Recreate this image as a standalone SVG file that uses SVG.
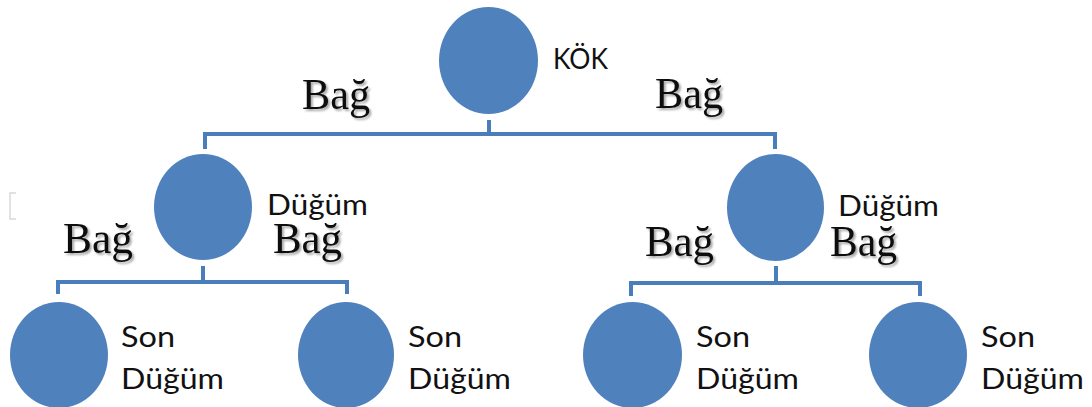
<svg xmlns="http://www.w3.org/2000/svg" width="1092" height="407" viewBox="0 0 1092 407">
<defs>
<style>
.node{fill:#4f81bd;}
.edge{fill:none;stroke:#4a7ebb;stroke-width:4;}
.lbl{font-family:Lato,"Noto Sans","Liberation Sans",sans-serif;font-size:28px;fill:#111;}
.bag{font-family:"Liberation Serif","Times New Roman",serif;font-size:44px;fill:#111;filter:url(#sh);}
</style>
<filter id="sh" x="-20%" y="-20%" width="140%" height="140%">
<feGaussianBlur in="SourceAlpha" stdDeviation="1.2"/>
<feOffset dx="2" dy="2" result="b"/>
<feComponentTransfer><feFuncA type="linear" slope="0.35"/></feComponentTransfer>
<feMerge><feMergeNode/><feMergeNode in="SourceGraphic"/></feMerge>
</filter>
</defs>
<rect width="1092" height="407" fill="#fff"/>
<path d="M16 193 H10 V219 H16" fill="none" stroke="#d9d9d9" stroke-width="1.5"/>
<g id="connectors">
<path class="edge" d="M489 120 V134 M205 149 V134 H775 V149"/>
<path class="edge" d="M203 266 V282 M58 294 V282 H347 V294"/>
<path class="edge" d="M776 266 V283 M631 296 V283 H920 V296"/>
</g>
<g id="edge-labels">
<text class="bag" x="302" y="109" textLength="68" lengthAdjust="spacingAndGlyphs">Bağ</text>
<text class="bag" x="655" y="108" textLength="68" lengthAdjust="spacingAndGlyphs">Bağ</text>
<text class="bag" x="63" y="253" textLength="70" lengthAdjust="spacingAndGlyphs">Bağ</text>
<text class="bag" x="273" y="253" textLength="69" lengthAdjust="spacingAndGlyphs">Bağ</text>
<text class="bag" x="645" y="256" textLength="69" lengthAdjust="spacingAndGlyphs">Bağ</text>
<text class="bag" x="830" y="256" textLength="67" lengthAdjust="spacingAndGlyphs">Bağ</text>
</g>
<g id="root">
<ellipse class="node" cx="488.5" cy="60.5" rx="49.5" ry="53.5"/>
<text class="lbl" x="553" y="69" textLength="55" lengthAdjust="spacingAndGlyphs">KÖK</text>
</g>
<g id="node-left">
<ellipse class="node" cx="203" cy="207" rx="49" ry="53"/>
<text class="lbl" x="267" y="215" textLength="101" lengthAdjust="spacingAndGlyphs">Düğüm</text>
</g>
<g id="node-right">
<ellipse class="node" cx="775.5" cy="207.5" rx="48.5" ry="53.5"/>
<text class="lbl" x="838" y="216" textLength="101" lengthAdjust="spacingAndGlyphs">Düğüm</text>
</g>
<g id="leaf-1">
<ellipse class="node" cx="59" cy="355" rx="49" ry="53"/>
<text class="lbl" x="121" y="347" textLength="54" lengthAdjust="spacingAndGlyphs">Son</text>
<text class="lbl" x="121" y="389" textLength="103" lengthAdjust="spacingAndGlyphs">Düğüm</text>
</g>
<g id="leaf-2">
<ellipse class="node" cx="346" cy="355" rx="48" ry="53"/>
<text class="lbl" x="408" y="347" textLength="54" lengthAdjust="spacingAndGlyphs">Son</text>
<text class="lbl" x="408" y="389" textLength="103" lengthAdjust="spacingAndGlyphs">Düğüm</text>
</g>
<g id="leaf-3">
<ellipse class="node" cx="632.5" cy="355" rx="49.5" ry="53"/>
<text class="lbl" x="696" y="347" textLength="54" lengthAdjust="spacingAndGlyphs">Son</text>
<text class="lbl" x="696" y="389" textLength="103" lengthAdjust="spacingAndGlyphs">Düğüm</text>
</g>
<g id="leaf-4">
<ellipse class="node" cx="918" cy="355" rx="49" ry="53"/>
<text class="lbl" x="981" y="347" textLength="54" lengthAdjust="spacingAndGlyphs">Son</text>
<text class="lbl" x="981" y="389" textLength="103" lengthAdjust="spacingAndGlyphs">Düğüm</text>
</g>
</svg>
